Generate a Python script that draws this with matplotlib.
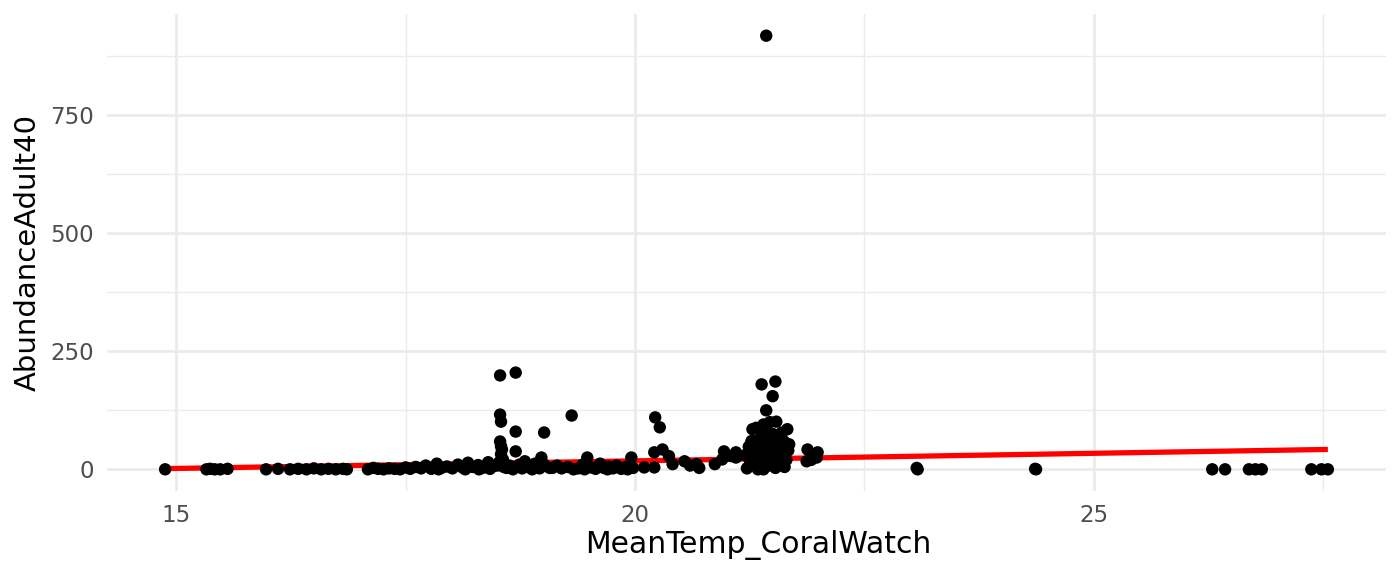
import matplotlib
matplotlib.use("Agg")
import matplotlib.pyplot as plt
import numpy as np
from matplotlib.ticker import FixedLocator

plt.rcParams['font.family'] = ['DejaVu Sans']

# ---- data ----
temp_low = [14.88, 15.33, 15.37, 15.42, 15.48, 15.56, 15.98, 16.11, 16.24, 16.33,
            16.42, 16.50, 16.58, 16.66, 16.74, 16.82, 16.86]
abund_low = [0, 0, 1, 0, 0, 1, 0, 1, 0, 1, 0, 2, 0, 1, 0, 1, 0]

temp_17 = [17.09, 17.15, 17.20, 17.26, 17.32, 17.38, 17.44, 17.50, 17.55, 17.61,
           17.67, 17.72, 17.78, 17.84, 17.89, 17.95, 18.01, 18.07, 18.12, 18.18,
           18.23, 18.29, 18.34, 18.40, 18.45, 17.86, 18.15, 18.30, 18.42]
abund_17 = [0, 3, 1, 0, 2, 1, 0, 4, 1, 5, 2, 8, 1, 12, 3, 6, 2, 10, 4, 14,
            5, 9, 3, 15, 6, 0, 0, 0, 1]

temp_185 = [18.50, 18.53, 18.70, 18.53, 18.54, 18.53, 18.54, 18.54, 18.56, 18.58,
            18.63, 18.70, 18.70, 18.74, 18.80, 18.85, 18.91, 18.96, 19.01, 19.01,
            18.98, 19.07, 18.60, 18.67, 18.77, 18.88, 18.52, 18.55, 18.57]
abund_185 = [8, 199, 205, 116, 101, 59, 49, 32, 21, 10,
             8, 80, 38, 10, 17, 4, 12, 2, 78, 10,
             25, 3, 3, 0, 2, 0, 15, 42, 5]

temp_19 = [19.10, 19.15, 19.20, 19.27, 19.31, 19.33, 19.38, 19.43, 19.48, 19.52,
           19.57, 19.62, 19.66, 19.71, 19.76, 19.80, 19.85, 19.90, 19.96, 19.98,
           19.45, 19.70, 19.92]
abund_19 = [3, 8, 2, 5, 114, 0, 2, 10, 25, 4, 1, 12, 3, 6, 2, 8, 1, 5, 25, 3, 0, 0, 0]

temp_20 = [20.10, 20.21, 20.22, 20.27, 20.21, 20.30, 20.37, 20.41, 20.54, 20.60,
           20.67, 20.70, 20.87, 20.97, 20.95, 21.10, 21.10, 21.05]
abund_20 = [4, 4, 110, 89, 36, 42, 28, 11, 17, 8, 11, 3, 11, 38, 21, 36, 25, 28]

temp_21 = [21.38, 21.53, 21.50, 21.43, 21.54, 21.28, 21.32, 21.66, 21.68, 21.27, 21.43,
           21.22, 21.25, 21.28, 21.30, 21.32, 21.33, 21.35, 21.36, 21.38, 21.40,
           21.40, 21.42, 21.43, 21.44, 21.46, 21.47, 21.48, 21.50, 21.50, 21.52,
           21.53, 21.55, 21.55, 21.57, 21.58, 21.60, 21.62, 21.63, 21.65, 21.67,
           21.40, 21.47, 21.36, 21.30, 21.27, 21.45, 21.60, 21.20, 21.24, 21.34,
           21.88, 21.99, 21.87, 21.98, 21.92]
abund_21 = [180, 186, 155, 125, 101, 85, 88, 85, 53, 57, 919,
            2, 10, 25, 45, 60, 5, 15, 35, 70, 0,
            50, 20, 85, 40, 8, 60, 30, 75, 12, 45,
            3, 65, 25, 50, 10, 35, 60, 5, 20, 40,
            95, 100, 55, 15, 60, 70, 78, 30, 48, 0,
            42, 36, 17, 25, 20]

temp_high = [23.07, 23.08, 24.37, 24.36, 26.29, 26.43, 26.69, 26.76, 26.83,
             27.37, 27.48, 27.55]
abund_high = [3, 0, 0, 1, 0, 0, 0, 0, 0, 0, 0, 0]

# linear fit coefficients (slope, intercept)
fit_coef = [3.21, -46.3]

x_ticks = [15, 20, 25]
y_ticks = [0, 250, 500, 750]

temp = np.array(temp_low + temp_17 + temp_185 + temp_19 + temp_20 + temp_21 + temp_high)
abund = np.array(abund_low + abund_17 + abund_185 + abund_19 + abund_20 + abund_21 + abund_high)

# ---- figure ----
W, H = 1400, 576
fig = plt.figure(figsize=(W / 100, H / 100), dpi=100)
L, R, T, B = 107, 1386, 14, 491
ax = fig.add_axes([L / W, 1 - B / H, (R - L) / W, (B - T) / H])

xmin, xmax = temp.min(), temp.max()
ymin, ymax = 0, abund.max()
ex = (xmax - xmin) * 0.05
ey = (ymax - ymin) * 0.05
ax.set_xlim(xmin - ex, xmax + ex)
ax.set_ylim(ymin - ey, ymax + ey)

ax.set_xticks(x_ticks)
ax.set_yticks(y_ticks)
ax.xaxis.set_minor_locator(FixedLocator([12.5, 17.5, 22.5, 27.5]))
ax.yaxis.set_minor_locator(FixedLocator([125, 375, 625, 875]))
ax.grid(which='major', color='#EBEBEB', linewidth=2.0)
ax.grid(which='minor', color='#EBEBEB', linewidth=1.0)
ax.set_axisbelow(True)
for s in ax.spines.values():
    s.set_visible(False)
ax.tick_params(which='both', length=0)
ax.tick_params(axis='x', pad=9.5, labelsize=16.5, labelcolor='#4D4D4D')
ax.tick_params(axis='y', pad=9.5, labelsize=16.5, labelcolor='#4D4D4D')

fx = np.array([xmin, xmax])
fy = fit_coef[0] * fx + fit_coef[1]
ax.plot(fx, fy, color='#FF0000', linewidth=3.8, solid_capstyle='butt', zorder=2)
ax.scatter(temp, abund, s=80, color='black', edgecolors='none', zorder=3)

fig.text(758 / W, 1 - 545 / H, 'MeanTemp_CoralWatch', ha='center', va='center',
         fontsize=21.5, color='black')
fig.text(28 / W, 1 - (T + B) / 2 / H, 'AbundanceAdult40', ha='center', va='center',
         rotation=90, fontsize=21, color='black')

fig.savefig('out.png', dpi=100)
